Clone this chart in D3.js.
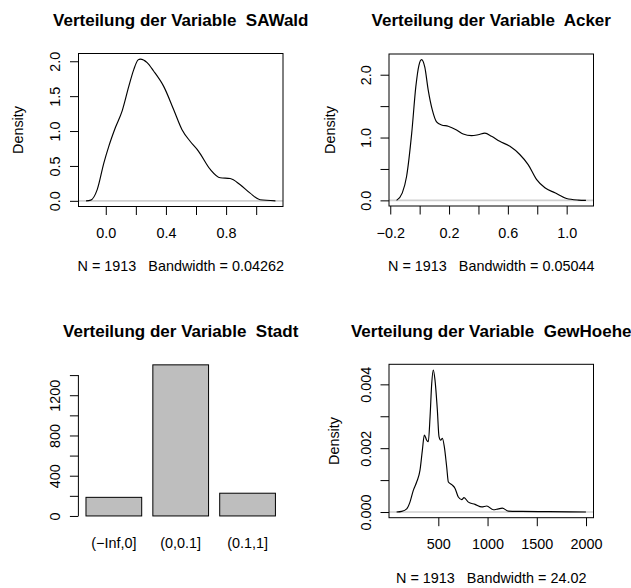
<!DOCTYPE html>
<html>
<head>
<meta charset="utf-8">
<script src="https://cdn.jsdelivr.net/npm/d3@7"></script>
<style>
  body { margin: 0; background: #fff; }
  svg text { font-family: "Liberation Sans", Arial, Helvetica, sans-serif; white-space: pre; fill: #000; }
</style>
</head>
<body>
<div id="chart"></div>
<script>
/* ── data ── */
const nObs = 1913;

const sawaldX = [-0.131, -0.10, -0.057, -0.013, 0.02, 0.064, 0.109, 0.153, 0.186, 0.215, 0.23, 0.275, 0.318,
                 0.385, 0.451, 0.507, 0.562, 0.617, 0.695, 0.761, 0.827, 0.894, 0.96, 1.026, 1.128];
const sawaldY = [0, 0.01, 0.16, 0.54, 0.78, 1.05, 1.29, 1.64, 1.88, 2.02, 2.03, 1.98, 1.86,
                 1.64, 1.31, 1.02, 0.85, 0.71, 0.45, 0.33, 0.32, 0.23, 0.11, 0.015, 0];

const ackerX = [-0.157, -0.118, -0.089, -0.054, -0.026, -0.005, 0.013, 0.035, 0.058, 0.086, 0.115, 0.149, 0.194,
                0.251, 0.296, 0.353, 0.398, 0.444, 0.489, 0.545, 0.614, 0.681, 0.738, 0.796, 0.852, 0.920,
                0.999, 1.079, 1.131];
const ackerY = [0, 0.12, 0.38, 1.07, 1.81, 2.15, 2.24, 2.12, 1.76, 1.44, 1.25, 1.20, 1.18,
                1.12, 1.055, 1.03, 1.045, 1.07, 1.02, 0.94, 0.86, 0.73, 0.57, 0.33, 0.20, 0.12,
                0.03, 0.005, 0];

const gewX = [76, 128, 179, 212, 246, 280, 314, 338, 358, 382, 398, 416, 433, 449, 466, 490, 507, 524, 541,
              561, 585, 602, 636, 670, 703, 738, 761, 805, 873, 941, 992, 1059, 1110, 1150, 1211, 1348, 1620, 1999];
const gewY = [0, 0.00002, 0.0001, 0.00031, 0.00068, 0.00094, 0.00131, 0.00194, 0.00241, 0.00225, 0.0022,
              0.00298, 0.00403, 0.00445, 0.00414, 0.0032, 0.00236, 0.00225, 0.00231, 0.00204, 0.00141,
              0.00094, 0.00086, 0.00074, 0.00047, 0.00039, 0.00045, 0.00031, 0.00024, 0.00016, 0.00019,
              0.00007, 0.0001, 0.00012, 0.00003, 0.00002, 0.00001, 0];

const stadtCats   = ['(\u2212Inf,0]', '(0,0.1]', '(0.1,1]'];
const stadtCounts = [185, 1502, 226];

const sawaldXTicks = [0, 0.2, 0.4, 0.6, 0.8, 1.0], sawaldXLabels = [0, 0.4, 0.8];
const sawaldYTicks = [0, 0.5, 1.0, 1.5, 2.0],      sawaldYLabels = [0, 0.5, 1.0, 1.5, 2.0];
const ackerXTicks  = [-0.2, 0, 0.2, 0.4, 0.6, 0.8, 1.0], ackerXLabels = [-0.2, 0.2, 0.6, 1.0];
const ackerYTicks  = [0, 0.5, 1.0, 1.5, 2.0],      ackerYLabels = [0, 1.0, 2.0];
const gewXTicks    = [500, 1000, 1500, 2000],      gewXLabels = [500, 1000, 1500, 2000];
const gewYTicks    = [0, 0.001, 0.002, 0.003, 0.004], gewYLabels = [0, 0.002, 0.004];
const stadtYTicks  = [0, 200, 400, 600, 800, 1000, 1200, 1400], stadtYLabels = [0, 400, 800, 1200];

/* ── layout ── */
const W = 631, H = 588;
const FS = 14.4, FS_MAIN = 17;
const TICK = 8.5;

const svg = d3.select('#chart').append('svg')
    .attr('width', W).attr('height', H)
    .attr('viewBox', `0 0 ${W} ${H}`);

const minus = s => s.replace(/-/g, '\u2212');

function pad4(ext) {
    const r = ext[1] - ext[0];
    return [ext[0] - 0.04 * r, ext[1] + 0.04 * r];
}

function bottomAxis(g, x, cfg) {
    const ax = g.append('g').attr('transform', `translate(0,${cfg.B})`)
        .call(d3.axisBottom(x).tickValues(cfg.xTicks).tickSize(TICK)
            .tickFormat(d => cfg.xLabels.some(v => Math.abs(v - d) < 1e-9) ? minus(cfg.xFmt(d)) : ''));
    ax.select('.domain').remove();
    ax.selectAll('line').attr('stroke', '#000');
    ax.selectAll('text').attr('y', 31.5).attr('dy', null)
        .style('font-size', FS + 'px');
}

function leftAxis(g, y, L, ticks, labels, fmt) {
    const ax = g.append('g').attr('transform', `translate(${L},0)`)
        .call(d3.axisLeft(y).tickValues(ticks).tickSize(TICK)
            .tickFormat(d => labels.some(v => Math.abs(v - d) < 1e-12) ? fmt(d) : ''));
    ax.select('.domain').remove();
    ax.selectAll('line').attr('stroke', '#000');
    ax.selectAll('text')
        .attr('x', null).attr('dy', null)
        .attr('text-anchor', 'middle')
        .attr('transform', 'translate(-18.5,0) rotate(-90)')
        .style('font-size', FS + 'px');
    return ax;
}

function title(g, text, cx, yb) {
    g.append('text').attr('x', cx).attr('y', yb)
        .attr('text-anchor', 'middle')
        .style('font-size', FS_MAIN + 'px').style('font-weight', 'bold')
        .text(text);
}

function densityPanel(cfg) {
    const g = svg.append('g');
    const pts = cfg.xs.map((v, i) => [v, cfg.ys[i]]);

    const x = d3.scaleLinear().domain(pad4(d3.extent(cfg.xs))).range([cfg.L, cfg.R]);
    const yMax = d3.max(cfg.ys);
    const y = d3.scaleLinear().domain([-0.04 * yMax, 1.04 * yMax]).range([cfg.B, cfg.T]);

    /* zero line */
    g.append('line')
        .attr('x1', cfg.L).attr('x2', cfg.R)
        .attr('y1', y(0)).attr('y2', y(0))
        .attr('stroke', '#cfcfcf').attr('stroke-width', 1.6);

    g.append('path').datum(pts)
        .attr('fill', 'none').attr('stroke', '#000').attr('stroke-width', 1.15)
        .attr('d', d3.line().x(d => x(d[0])).y(d => y(d[1])).curve(d3.curveMonotoneX));

    g.append('rect')
        .attr('x', cfg.L).attr('y', cfg.T)
        .attr('width', cfg.R - cfg.L).attr('height', cfg.B - cfg.T)
        .attr('fill', 'none').attr('stroke', '#000').attr('stroke-width', 1);

    bottomAxis(g, x, cfg);
    leftAxis(g, y, cfg.L, cfg.yTicks, cfg.yLabels, cfg.yFmt);

    title(g, cfg.title, (cfg.L + cfg.R) / 2, cfg.titleY);

    g.append('text')
        .attr('transform', `translate(${cfg.ylabX},${(cfg.T + cfg.B) / 2}) rotate(-90)`)
        .attr('text-anchor', 'middle').style('font-size', FS + 'px')
        .text('Density');

    g.append('text')
        .attr('x', (cfg.L + cfg.R) / 2).attr('y', cfg.B + 64.8)
        .attr('text-anchor', 'middle').style('font-size', FS + 'px')
        .text(`N = ${nObs}   Bandwidth = ${cfg.bw}`);
}

densityPanel({
    title: 'Verteilung der Variable  SAWald', titleY: 26,
    xs: sawaldX, ys: sawaldY, bw: '0.04262',
    L: 78.5, R: 283, T: 53.5, B: 206.5, ylabX: 23.3,
    xTicks: sawaldXTicks, xLabels: sawaldXLabels, xFmt: d3.format('.1f'),
    yTicks: sawaldYTicks, yLabels: sawaldYLabels, yFmt: d3.format('.1f')
});

densityPanel({
    title: 'Verteilung der Variable  Acker', titleY: 26,
    xs: ackerX, ys: ackerY, bw: '0.05044',
    L: 389, R: 593.5, T: 54, B: 206, ylabX: 334.6,
    xTicks: ackerXTicks, xLabels: ackerXLabels, xFmt: d3.format('.1f'),
    yTicks: ackerYTicks, yLabels: ackerYLabels, yFmt: d3.format('.1f')
});

densityPanel({
    title: 'Verteilung der Variable  GewHoehe', titleY: 337,
    xs: gewX, ys: gewY, bw: '24.02',
    L: 389, R: 593.5, T: 364.3, B: 517.7, ylabX: 338.6,
    xTicks: gewXTicks, xLabels: gewXLabels, xFmt: d3.format('d'),
    yTicks: gewYTicks, yLabels: gewYLabels, yFmt: d3.format('.3f')
});

/* ── bar panel: Stadt ── */
(function () {
    const g = svg.append('g');
    const L = 78.4, R = 283, T = 358.8, B = 522;
    const width = 1, space = 0.2;
    const lefts = stadtCounts.map((_, i) => space + i * (width + space));

    const x = d3.scaleLinear().domain(pad4([lefts[0], lefts[lefts.length - 1] + width])).range([L, R]);
    const cMax = d3.max(stadtCounts);
    const y = d3.scaleLinear().domain([-0.04 * cMax, 1.04 * cMax]).range([B, T]);

    g.selectAll('rect.bar').data(stadtCounts).join('rect')
        .attr('class', 'bar')
        .attr('x', (d, i) => x(lefts[i]))
        .attr('width', (d, i) => x(lefts[i] + width) - x(lefts[i]))
        .attr('y', d => y(d))
        .attr('height', d => y(0) - y(d))
        .attr('fill', '#bebebe').attr('stroke', '#000').attr('stroke-width', 1);

    g.selectAll('text.cat').data(stadtCats).join('text')
        .attr('class', 'cat')
        .attr('x', (d, i) => x(lefts[i] + width / 2))
        .attr('y', 547.5)
        .attr('text-anchor', 'middle').style('font-size', FS + 'px')
        .text(d => d);

    leftAxis(g, y, L, stadtYTicks, stadtYLabels, d3.format('d'));
    g.append('line')
        .attr('x1', L).attr('x2', L)
        .attr('y1', y(stadtYTicks[0])).attr('y2', y(stadtYTicks[stadtYTicks.length - 1]))
        .attr('stroke', '#000');

    title(g, 'Verteilung der Variable  Stadt', (L + R) / 2, 337);
})();
</script>
</body>
</html>
